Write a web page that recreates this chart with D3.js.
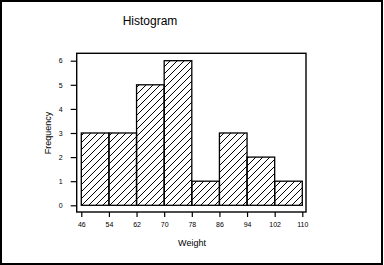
<!DOCTYPE html>
<html><head><meta charset="utf-8">
<script src="https://cdn.jsdelivr.net/npm/d3@7"></script>
<style>html,body{margin:0;padding:0;background:#fff;}svg{display:block;}</style>
</head><body>
<script>
const binStarts = [46, 54, 62, 70, 78, 86, 94, 102];
const binWidth = 8;
const frequencies = [3, 3, 5, 6, 1, 3, 2, 1];
const xTicks = [46, 54, 62, 70, 78, 86, 94, 102, 110];
const yTicks = [0, 1, 2, 3, 4, 5, 6];

const W = 384, H = 265;
const svg = d3.select("body").append("svg").attr("width", W).attr("height", H);
const font = "'Liberation Sans', Arial, sans-serif";

svg.append("rect").attr("x", 1).attr("y", 1).attr("width", 381).attr("height", 263)
  .attr("fill", "#fff").attr("stroke", "#000").attr("stroke-width", 2);

const defs = svg.append("defs");
const pat = defs.append("pattern").attr("id", "hatch").attr("patternUnits", "userSpaceOnUse")
  .attr("width", 7).attr("height", 7);
pat.append("path").attr("d", "M-1,1 l2,-2 M0,7 l7,-7 M6,8 l2,-2")
  .attr("stroke", "#000").attr("stroke-width", 1).attr("shape-rendering", "crispEdges");

const x = d3.scaleLinear().domain([46, 110]).range([81.3, 302.3]);
const y = d3.scaleLinear().domain([0, 6]).range([205.3, 60.7]);

// frame
svg.append("rect").attr("x", 76.7).attr("y", 53.3).attr("width", 306 - 76.7).attr("height", 212 - 53.3)
  .attr("fill", "none").attr("stroke", "#000").attr("stroke-width", 1.4);

// bars
svg.selectAll("rect.bar").data(binStarts).enter().append("rect").attr("class", "bar")
  .attr("x", d => x(d)).attr("width", d => x(d + binWidth) - x(d))
  .attr("y", (d, i) => y(frequencies[i])).attr("height", (d, i) => y(0) - y(frequencies[i]))
  .attr("fill", "url(#hatch)").attr("stroke", "#000").attr("stroke-width", 1.3);

// y axis
const yAxis = d3.axisLeft(y).tickValues(yTicks).tickSize(6).tickPadding(8).tickFormat(d3.format("d"));
const gy = svg.append("g").attr("transform", "translate(76.7,0)").call(yAxis);
gy.select(".domain").remove();
gy.selectAll("line").attr("stroke", "#000").attr("stroke-width", 1.2);
gy.selectAll("text").attr("font-family", font).attr("font-size", 7).attr("fill", "#000");

// x axis
const xAxis = d3.axisBottom(x).tickValues(xTicks).tickSize(5).tickPadding(5).tickFormat(d3.format("d"));
const gx = svg.append("g").attr("transform", "translate(0,212)").call(xAxis);
gx.select(".domain").remove();
gx.selectAll("line").attr("stroke", "#000").attr("stroke-width", 1.2);
gx.selectAll("text").attr("font-family", font).attr("font-size", 7).attr("fill", "#000");

// titles
svg.append("text").attr("x", 150).attr("y", 25).attr("text-anchor", "middle")
  .attr("font-family", font).attr("font-size", 12).text("Histogram");
svg.append("text").attr("x", 192).attr("y", 246).attr("text-anchor", "middle")
  .attr("font-family", font).attr("font-size", 9).text("Weight");
svg.append("text").attr("transform", "translate(51,133) rotate(-90)").attr("text-anchor", "middle")
  .attr("font-family", font).attr("font-size", 9).text("Frequency");
</script>
</body></html>
